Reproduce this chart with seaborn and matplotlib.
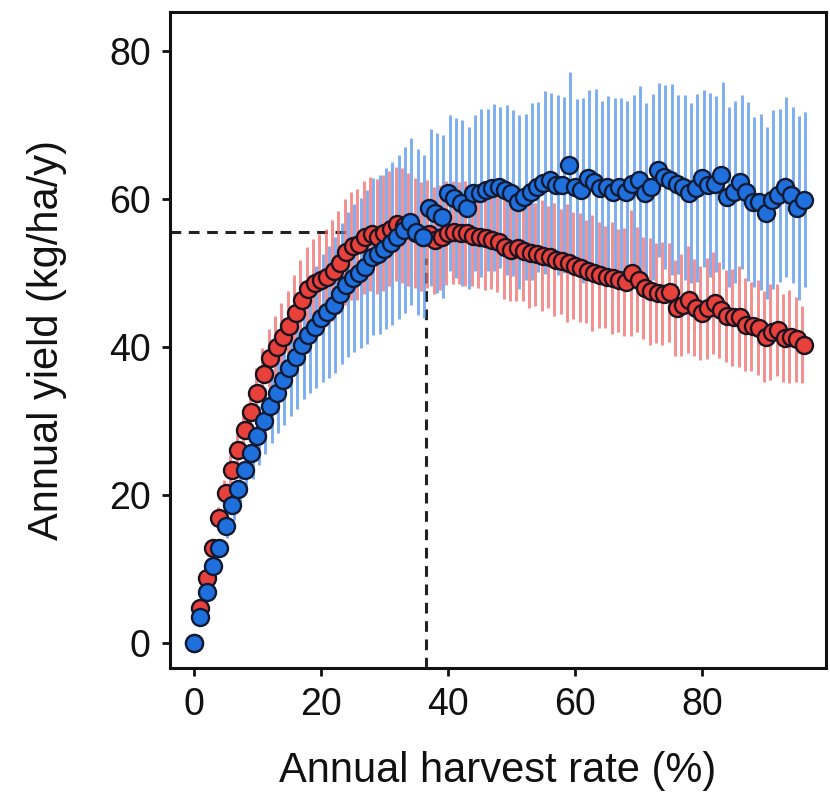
import numpy as np
import pandas as pd
import seaborn as sns
import matplotlib
matplotlib.use('Agg')
import matplotlib.pyplot as plt

# harvest rate (%) 0..96
harvest_rate = list(range(0, 97))

red_yield = [
    0.0, 4.7, 8.8, 12.8, 16.8, 20.2, 23.3, 26.0, 28.8, 31.2, 33.8,
    36.3, 38.5, 40.0, 41.4, 42.8, 44.6, 46.3, 47.8, 48.6, 49.0,
    49.5, 50.3, 51.4, 52.8, 53.6, 53.9, 54.8, 55.3, 54.9, 55.4,
    56.0, 56.6, 56.4, 55.9, 55.4, 54.9, 55.3, 54.4, 54.8, 55.4,
    55.5, 55.4, 55.4, 55.0, 54.8, 54.7, 54.5, 54.2, 53.5, 53.1,
    53.4, 53.0, 52.7, 52.5, 52.3, 52.1, 51.8, 51.6, 51.3, 51.0,
    50.7, 50.2, 50.0, 49.7, 49.5, 49.3, 49.0, 48.8, 50.0, 49.1,
    48.0, 47.5, 47.3, 47.2, 47.4, 45.2, 45.6, 46.4, 45.3, 44.6,
    45.2, 45.9, 45.0, 44.2, 44.0, 44.1, 43.0, 42.8, 42.6, 41.4,
    42.0, 42.3, 41.2, 41.4, 41.0, 40.3,
]

blue_yield = [
    0.0, 3.5, 6.9, 10.3, 12.8, 15.8, 18.6, 20.8, 23.3, 25.6, 28.0,
    30.0, 32.0, 33.8, 35.5, 37.2, 38.6, 40.3, 41.6, 42.7, 43.9,
    44.7, 45.7, 47.2, 48.4, 49.3, 50.0, 50.8, 52.2, 52.5, 53.3,
    54.0, 54.9, 55.8, 56.9, 55.5, 54.9, 58.8, 58.1, 57.6, 60.8,
    60.1, 59.5, 58.8, 60.8, 60.8, 61.2, 61.5, 61.6, 61.2, 60.8,
    59.6, 60.3, 61.0, 61.6, 62.2, 62.6, 61.9, 61.9, 64.6, 61.6,
    61.2, 62.8, 62.3, 61.5, 61.6, 60.9, 61.6, 60.9, 62.0, 62.6,
    60.8, 61.6, 63.9, 63.0, 62.6, 62.0, 61.6, 60.8, 61.5, 62.8,
    61.9, 62.0, 63.2, 60.3, 61.0, 62.3, 61.0, 59.6, 59.6, 58.1,
    59.9, 60.5, 61.6, 60.5, 58.8, 59.9,
]

red_err = [
    0.0, 0.4, 0.8, 1.2, 1.5, 1.8, 2.1, 2.4, 2.7, 3.0, 3.3,
    3.6, 3.9, 4.2, 4.5, 4.8, 5.1, 5.4, 5.7, 6.0, 6.3,
    6.5, 6.8, 7.0, 7.2, 7.3, 7.5, 7.6, 7.7, 7.8, 7.8,
    7.8, 7.7, 7.8, 7.6, 7.5, 7.4, 7.3, 7.2, 7.1, 7.0,
    7.0, 6.9, 7.1, 6.8, 6.9, 7.0, 6.7, 6.8, 7.0, 6.9,
    7.2, 6.8, 7.4, 7.0, 7.5, 6.9, 7.6, 7.1, 8.0, 7.2,
    7.4, 7.0, 7.8, 7.2, 6.9, 7.6, 7.0, 7.3, 8.5, 7.1,
    6.9, 7.2, 6.8, 7.0, 6.7, 6.5, 6.9, 7.2, 6.6, 6.4,
    6.8, 6.9, 6.5, 6.2, 6.6, 6.8, 6.3, 6.0, 6.4, 6.1,
    6.5, 6.2, 5.9, 6.3, 5.8, 5.2,
]

blue_err = [
    0.0, 0.3, 0.6, 0.9, 1.2, 1.6, 2.0, 2.5, 3.0, 3.5, 4.0,
    4.5, 5.0, 5.5, 6.0, 6.5, 7.0, 7.4, 7.8, 8.2, 8.6,
    8.9, 9.2, 9.5, 9.8, 10.0, 10.2, 10.4, 10.6, 10.8, 10.9,
    11.0, 11.1, 11.2, 11.3, 11.2, 11.0, 10.6, 10.8, 11.0, 10.5,
    10.8, 11.2, 11.0, 10.6, 11.4, 11.0, 11.3, 10.9, 11.5, 11.2,
    11.8, 11.2, 12.0, 11.5, 12.4, 11.8, 12.2, 11.9, 12.6, 11.9,
    12.5, 12.0, 12.6, 11.8, 12.3, 12.8, 12.0, 12.4, 12.1, 12.7,
    12.2, 12.6, 11.8, 12.4, 12.9, 12.1, 12.5, 12.2, 12.7, 12.0,
    12.4, 11.9, 12.6, 12.2, 12.3, 11.8, 12.1, 11.5, 11.9, 11.6,
    12.1, 11.7, 12.2, 11.9, 12.4, 11.8,
]

# harvest rate and yield at the red curve's maximum
msy_rate = 36.6
msy_yield = 55.5

red_df = pd.DataFrame({'rate': harvest_rate, 'yield': red_yield, 'err': red_err})
blue_df = pd.DataFrame({'rate': harvest_rate, 'yield': blue_yield, 'err': blue_err})

sns.set_theme(style="ticks")
plt.rcParams['font.family'] = ['Liberation Sans', 'DejaVu Sans']

fig = plt.figure(figsize=(8.3, 7.95), dpi=100)
ax = fig.add_axes([0.205, 0.16, 0.79, 0.825])

# error bars (slightly dodged so the two series interleave)
ax.vlines(red_df['rate'] - 0.25, red_df['yield'] - red_df['err'], red_df['yield'] + red_df['err'],
          color='#f26a6a', alpha=0.75, lw=2.1, zorder=2)
ax.vlines(blue_df['rate'] + 0.25, blue_df['yield'] - blue_df['err'], blue_df['yield'] + blue_df['err'],
          color='#4a8fec', alpha=0.72, lw=2.1, zorder=2)

# reference lines at the maximum yield
ax.hlines(msy_yield, -3.75, 25, colors='#222222', linestyles=(0, (3.5, 2.5)), lw=2.2, zorder=1)
ax.vlines(msy_rate, -3.4, 52, colors='#222222', linestyles=(0, (3.5, 2.5)), lw=2.2, zorder=1)

sns.scatterplot(x='rate', y='yield', data=red_df, ax=ax, color='#e8403a',
                edgecolor='#1a1320', linewidth=1.7, s=150, zorder=3, legend=False)
sns.scatterplot(x='rate', y='yield', data=blue_df, ax=ax, color='#1f6fdc',
                edgecolor='#101a33', linewidth=1.7, s=150, zorder=4, legend=False)

ax.set_xlim(-3.75, 99.5)
ax.set_ylim(-3.4, 85.3)
ax.set_xticks(range(0, 81, 20))
ax.set_yticks(range(0, 81, 20))

for side in ['left', 'bottom', 'top', 'right']:
    ax.spines[side].set_linewidth(2.2)
    ax.spines[side].set_color('#111111')
ax.tick_params(axis='both', labelsize=27, length=6, width=2, color='#111111',
               labelcolor='#111111', pad=8)

ax.set_xlabel("Annual harvest rate (%)", fontsize=30, labelpad=20, color='#111111')
ax.set_ylabel("Annual yield (kg/ha/y)", fontsize=30, labelpad=30, color='#111111')

fig.savefig('out.png', dpi=100, facecolor='white')
